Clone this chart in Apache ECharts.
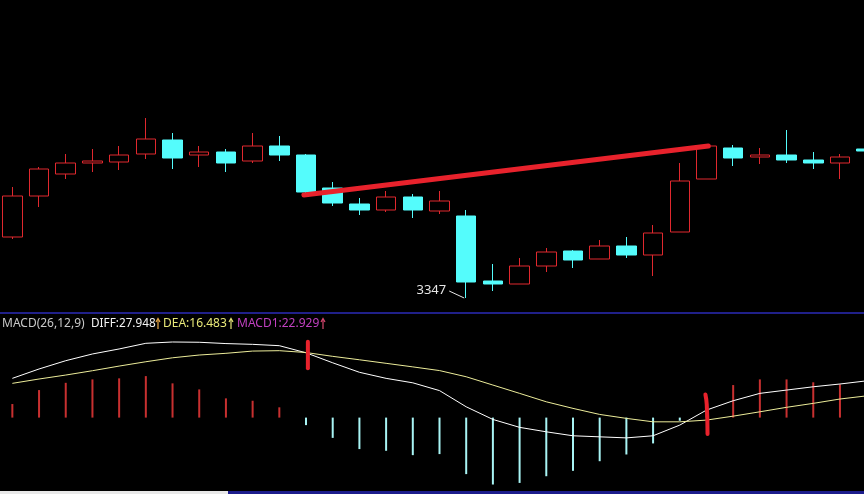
<!DOCTYPE html>
<html>
<head>
<meta charset="utf-8">
<script src="https://cdn.jsdelivr.net/npm/echarts@6/dist/echarts.min.js"></script>
<style>
html,body{margin:0;padding:0;background:#000;}
#c{width:864px;height:494px;}
</style>
</head>
<body>
<div id="c"></div>
<script>
// ---- data ----
const categories = Array.from({length: 33}, (_, i) => String(i + 1));
const opens  = [3408,3449,3471,3482,3483,3491,3505,3490,3493,3484,3499,3490,3457,3441,3435,3448,3434,3429,3364,3361,3379,3394,3386,3399,3390,3413,3466,3497,3488,3490,3485,3482,3496];
const closes = [3449,3476,3482,3484,3490,3506,3487,3493,3482,3499,3490,3453,3442,3435,3448,3435,3444,3363,3361,3379,3393,3385,3399,3390,3412,3464,3499,3487,3490,3485,3482,3488,3494];
const lows   = [3406,3438,3466,3473,3475,3486,3476,3478,3473,3482,3484,3452,3439,3430,3433,3427,3431,3347,3354,3361,3373,3377,3386,3387,3369,3413,3466,3479,3481,3482,3476,3466,3490];
const highs  = [3458,3478,3491,3496,3499,3527,3512,3499,3496,3512,3509,3491,3463,3447,3454,3451,3454,3435,3381,3387,3397,3395,3405,3408,3420,3482,3500,3500,3497,3515,3493,3491,3499];

const diffValues = [29.8,36.9,43.2,48.3,52.1,56.4,57.4,57.2,56.2,55.6,54.6,49.2,41.6,34.4,29.8,26.4,20.5,8.2,-1.4,-7.4,-10.8,-13.8,-14.6,-15.4,-13.8,-5.7,5.7,12.8,18.4,20.9,23.4,25.5,27.9];
const deaValues  = [26.0,29.3,32.3,35.6,39.1,42.4,45.4,47.5,48.8,50.5,50.8,49.4,46.5,43.9,41.2,38.5,35.7,31.0,24.7,18.4,12.0,7.0,2.4,-0.6,-3.2,-3.2,-1.9,1.1,4.4,7.8,10.8,14.1,16.5];
const macdValues = [10.3,20.9,26.4,29.0,29.8,31.5,26.0,21.4,14.6,12.8,7.8,-5.7,-15.4,-23.9,-25.2,-28.5,-27.7,-42.9,-50.8,-49.6,-44.5,-40.4,-33.1,-28.0,-19.6,-2.4,9.0,24.7,29.0,29.0,26.8,25.2,22.9];

// annotations (in data units: [category index, value])
const trendLine = [[10.92, 3450], [26.07, 3499]];
const macdMark1 = [[11.07, 57.6], [11.07, 37.4]];
const macdMark2 = [[25.96, 17.5], [26.01, 10], [26.04, -12.5]];
const lowLabelIndex = 17;
const lowLabelValue = 3347;

const headerTexts = [
  {text: 'MACD(26,12,9)', x: 2, color: '#c8c8c8', w: 84},
  {text: 'DIFF:27.948', x: 91, color: '#f4f4f4', w: 65},
  {text: 'DEA:16.483', x: 163, color: '#e8e878', w: 65},
  {text: 'MACD1:22.929', x: 237, color: '#c040c0', w: 83}
];
const headerArrows = [
  {x: 158, color: '#e8a848'},
  {x: 231, color: '#e8e878'},
  {x: 323, color: '#d84870'}
];

// ---- chart ----
const RED = '#e0282e';
const CYAN = '#54fcfc';
const chart = echarts.init(document.getElementById('c'), null, {renderer: 'canvas'});
const kData = opens.map((o, i) => [o, closes[i], lows[i], highs[i]]);
const hiddenAxis = {show: false, axisLine: {show: false}, axisTick: {show: false}, axisLabel: {show: false}, splitLine: {show: false}};
const n = categories.length;

const option = {
  backgroundColor: '#000000',
  animation: false,
  grid: [
    {left: -1, width: 881, top: 0, height: 310, outerBoundsMode: 'none', containLabel: false},
    {left: -1, width: 881, top: 330, height: 164, outerBoundsMode: 'none', containLabel: false}
  ],
  xAxis: [
    Object.assign({type: 'category', data: categories, gridIndex: 0, boundaryGap: true}, hiddenAxis),
    Object.assign({type: 'category', data: categories, gridIndex: 1, boundaryGap: true}, hiddenAxis),
    Object.assign({type: 'value', gridIndex: 0, min: -0.5, max: n - 0.5}, hiddenAxis),
    Object.assign({type: 'value', gridIndex: 1, min: -0.5, max: n - 0.5}, hiddenAxis)
  ],
  yAxis: [
    Object.assign({type: 'value', gridIndex: 0, min: 3335, max: 3645}, hiddenAxis),
    Object.assign({type: 'value', gridIndex: 1, min: -58, max: 66.5}, hiddenAxis)
  ],
  series: [
    {
      type: 'candlestick', xAxisIndex: 0, yAxisIndex: 0, data: kData, barWidth: 20,
      itemStyle: {color: '#000000', color0: CYAN, borderColor: RED, borderColor0: CYAN, borderWidth: 1}
    },
    {
      type: 'line', xAxisIndex: 2, yAxisIndex: 0, data: trendLine, symbol: 'none',
      lineStyle: {color: '#e8222c', width: 5, cap: 'round'}, z: 5
    },
    {
      type: 'bar', xAxisIndex: 1, yAxisIndex: 1, data: macdValues, barWidth: 2,
      itemStyle: {color: p => p.value >= 0 ? '#c83030' : '#a8f4f4'}
    },
    {
      type: 'line', xAxisIndex: 1, yAxisIndex: 1, data: diffValues, symbol: 'none',
      lineStyle: {color: '#ffffff', width: 1}
    },
    {
      type: 'line', xAxisIndex: 1, yAxisIndex: 1, data: deaValues, symbol: 'none',
      lineStyle: {color: '#ecec9a', width: 1}
    },
    {
      type: 'line', xAxisIndex: 3, yAxisIndex: 1, data: macdMark1, symbol: 'none',
      lineStyle: {color: '#e8222c', width: 4, cap: 'round'}, z: 5
    },
    {
      type: 'line', xAxisIndex: 3, yAxisIndex: 1, data: macdMark2, symbol: 'none', smooth: true,
      lineStyle: {color: '#e8222c', width: 4, cap: 'round'}, z: 5
    }
  ]
};
chart.setOption(option);

const p = chart.convertToPixel({xAxisIndex: 0, yAxisIndex: 0}, [lowLabelIndex, lowLabelValue]);
const graphics = [
  {type: 'rect', shape: {x: 0, y: 312, width: 864, height: 2}, style: {fill: '#20208a'}, silent: true},
  {type: 'rect', shape: {x: 0, y: 491, width: 228, height: 3}, style: {fill: '#e8e8e8'}, silent: true},
  {type: 'rect', shape: {x: 228, y: 491, width: 636, height: 3}, style: {fill: '#1c1c8c'}, silent: true},
  {type: 'text', x: p[0] - 20, y: p[1] - 8, style: {text: String(lowLabelValue), fill: '#e6e6e6', font: '13px "Noto Sans", sans-serif', align: 'right', verticalAlign: 'middle'}, silent: true},
  {type: 'line', shape: {x1: p[0] - 17, y1: p[1] - 7, x2: p[0] - 2, y2: p[1]}, style: {stroke: '#e6e6e6', lineWidth: 1}, silent: true}
];
// measure text so each segment fits its width in the reference
const ctx = document.createElement('canvas').getContext('2d');
headerTexts.forEach(t => {
  let size = 13;
  for (; size > 9; size -= 0.25) {
    ctx.font = size + 'px "Noto Sans", sans-serif';
    if (ctx.measureText(t.text).width <= t.w) break;
  }
  graphics.push({type: 'text', x: t.x, y: 323.5, style: {text: t.text, fill: t.color, font: size + 'px "Noto Sans", sans-serif', verticalAlign: 'middle'}, silent: true});
});
headerArrows.forEach(a => {
  graphics.push({type: 'line', shape: {x1: a.x, y1: 319, x2: a.x, y2: 329}, style: {stroke: a.color, lineWidth: 1.2}, silent: true});
  graphics.push({type: 'polyline', shape: {points: [[a.x - 2, 322], [a.x, 318.5], [a.x + 2, 322]]}, style: {stroke: a.color, lineWidth: 1.2, fill: null}, silent: true});
});
chart.setOption({graphic: graphics});
</script>
</body>
</html>
